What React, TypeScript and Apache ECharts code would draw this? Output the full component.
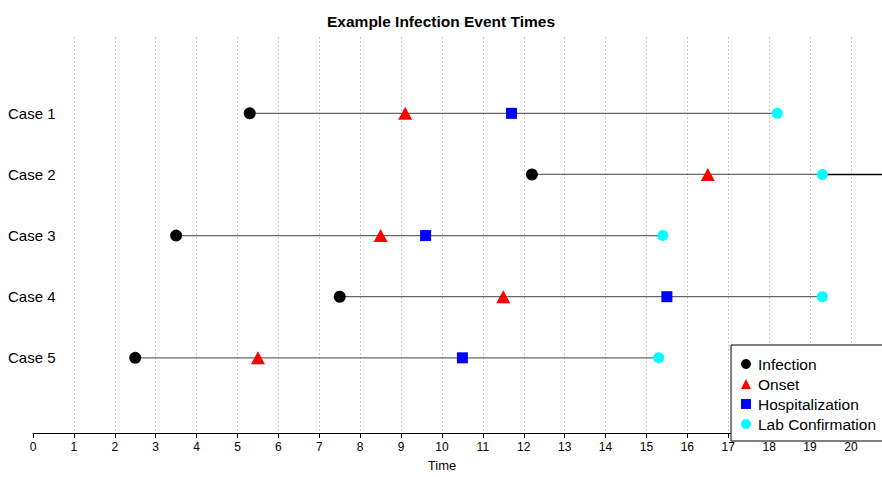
import React, { useEffect, useRef } from "react";
import * as echarts from "echarts";

const cases = ["Case 1", "Case 2", "Case 3", "Case 4", "Case 5"];
const infection = [5.3, 12.2, 3.5, 7.5, 2.5];
const onset = [9.1, 16.5, 8.5, 11.5, 5.5];
const hospitalization = [11.7, 21.8, 9.6, 15.5, 10.5];
const labConfirmation = [18.2, 19.3, 15.4, 19.3, 15.3];
const xTicks = [0, 1, 2, 3, 4, 5, 6, 7, 8, 9, 10, 11, 12, 13, 14, 15, 16, 17, 18, 19, 20];

const FONT = "'Liberation Sans', Arial, sans-serif";

export default function App() {
  const ref = useRef<HTMLDivElement>(null);
  useEffect(() => {
    if (!ref.current) return;
    const chart = echarts.init(ref.current, null, { renderer: "svg" });
    const pos = (i: number) => i + 1;
    const lineSeries: any[] = [];
    cases.forEach((c, i) => {
      const vals = [infection[i], onset[i], hospitalization[i], labConfirmation[i]];
      const lo = Math.min(...vals);
      const hi = Math.max(labConfirmation[i], hospitalization[i]);
      const mid = labConfirmation[i];
      lineSeries.push({
        type: "line",
        name: c + " span",
        data: [[lo, pos(i)], [mid, pos(i)]],
        symbol: "none",
        silent: true,
        lineStyle: { color: "#666", width: 1.2 },
        z: 1,
      });
      if (hi > mid) {
        lineSeries.push({
          type: "line",
          name: c + " ext",
          data: [[mid, pos(i)], [hi, pos(i)]],
          symbol: "none",
          silent: true,
          lineStyle: { color: "#000", width: 1.5 },
          z: 1,
        });
      }
    });
    const pts = (arr: number[]) => arr.map((v, i) => [v, pos(i)]);
    chart.setOption({
      animation: false,
      textStyle: { fontFamily: FONT },
      title: {
        text: "Example Infection Event Times",
        left: "center",
        top: 8,
        textStyle: { fontSize: 15.5, fontWeight: "bold", color: "#000", fontFamily: FONT },
      },
      grid: { left: 33, right: 0, top: 37, bottom: 38, containLabel: false },
      xAxis: {
        type: "value",
        min: 0,
        max: 20.76,
        interval: 1,
        name: "Time",
        nameLocation: "middle",
        nameGap: 26,
        nameTextStyle: { fontSize: 13, color: "#000", fontFamily: FONT, padding: [0, 31, 0, 0] },
        axisLine: { show: true, onZero: false, lineStyle: { color: "#000", width: 1 } },
        axisTick: { show: true, length: 5, lineStyle: { color: "#000" } },
        axisLabel: {
          color: "#000",
          fontSize: 12,
          margin: 8,
          showMaxLabel: false,
          fontFamily: FONT,
          formatter: (v: number) => (xTicks.includes(v) ? String(v) : ""),
        },
        splitLine: {
          show: true,
          showMinLine: false,
          showMaxLine: false,
          lineStyle: { color: "#c8c8c8", type: [2, 2], width: 1 },
        },
      },
      yAxis: {
        type: "value",
        inverse: true,
        min: -0.249,
        max: 6.23,
        axisLine: { show: false },
        axisTick: { show: false },
        splitLine: { show: false },
        axisLabel: {
          customValues: [1, 2, 3, 4, 5],
          formatter: (v: number) => cases[Math.round(v) - 1] ?? "",
          align: "left",
          margin: 25,
          fontSize: 15,
          color: "#000",
          fontFamily: FONT,
        },
      },
      legend: {
        orient: "vertical",
        left: 731,
        top: 345,
        backgroundColor: "#fff",
        borderColor: "#000",
        borderWidth: 1,
        borderRadius: 0,
        padding: [11, 30, 9, 10],
        itemGap: 4,
        itemWidth: 10,
        itemHeight: 10,
        textStyle: { fontSize: 15.5, color: "#000", fontFamily: FONT, padding: [0, 0, 0, 2] },
        data: [
          { name: "Infection", icon: "circle" },
          { name: "Onset", icon: "triangle" },
          { name: "Hospitalization", icon: "rect" },
          { name: "Lab Confirmation", icon: "circle" },
        ],
        z: 10,
      },
      series: [
        ...lineSeries,
        {
          type: "scatter",
          name: "Infection",
          data: pts(infection),
          symbol: "circle",
          symbolSize: 12,
          itemStyle: { color: "#000", opacity: 1 },
          z: 3,
        },
        {
          type: "scatter",
          name: "Onset",
          data: pts(onset),
          symbol: "triangle",
          symbolSize: [14, 13],
          itemStyle: { color: "#ff0000", opacity: 1 },
          z: 3,
        },
        {
          type: "scatter",
          name: "Hospitalization",
          data: pts(hospitalization),
          symbol: "rect",
          symbolSize: 11,
          itemStyle: { color: "#0000ff", opacity: 1 },
          clip: true,
          z: 3,
        },
        {
          type: "scatter",
          name: "Lab Confirmation",
          data: pts(labConfirmation),
          symbol: "circle",
          symbolSize: 11,
          itemStyle: { color: "#00ffff", opacity: 1 },
          z: 3,
        },
      ],
    });
    return () => chart.dispose();
  }, []);
  return (
    <div
      ref={ref}
      style={{ position: "fixed", left: 0, top: 0, width: 882, height: 477, background: "#fff" }}
    />
  );
}
